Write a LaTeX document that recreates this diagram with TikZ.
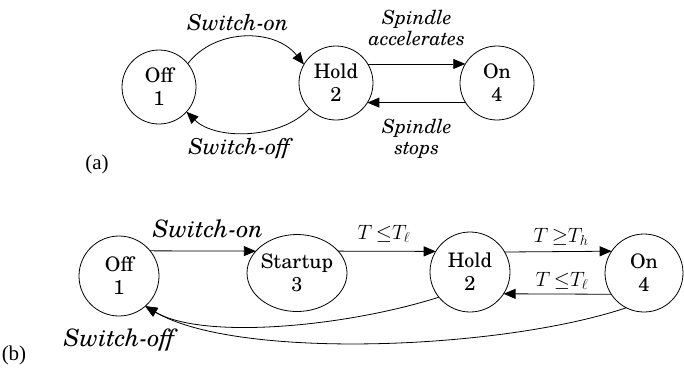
\documentclass[tikz,border=0pt]{standalone}
\usepackage{fontspec}
\setmainfont{TeX Gyre Schola}
\newfontfamily\timesfont{Liberation Serif}
\usetikzlibrary{arrows.meta,shapes.geometric}
\newcommand\statefnt{\fontsize{20}{23}\selectfont}
\newcommand\swafnt{\fontsize{22}{24}\selectfont\itshape}
\newcommand\swbfnt{\fontsize{24}{26}\selectfont\itshape}
\newcommand\spfnt{\fontsize{19.5}{21}\selectfont\itshape}
\newcommand\mfnt{\fontsize{20}{22}\selectfont}
\newcommand\capfnt{\fontsize{21}{23}\selectfont\timesfont}
\begin{document}
\begin{tikzpicture}[x=1pt,y=-1pt,
  st/.style={draw, circle, line width=0.8pt, inner sep=0pt, outer sep=0pt, align=center, font=\statefnt},
  arr/.style={line width=0.8pt, -{Triangle[length=12pt,width=10pt]}},
  lab/.style={inner sep=0pt, align=center}]
\useasboundingbox (0,0) rectangle (684,368);
% (a)
\node[st, minimum size=74pt] (offA) at (159,87) {Off\\1};
\node[st, minimum size=74pt] (holdA) at (336,83) {Hold\\2};
\node[st, minimum size=74pt] (onA) at (497,83) {On\\4};
\node[lab, font=\swafnt] (swonA) at (238,23) {Switch-on};
\node[lab, font=\swafnt] (swoffA) at (240,149) {Switch-off};
\node[lab, font=\spfnt] (accA) at (417,28) {Spindle\\accelerates};
\node[lab, font=\spfnt] (stopA) at (417,139) {Spindle\\stops};
\node[lab, font=\capfnt] (capA) at (97,164) {(a)};
\draw[arr] (offA.39) .. controls (215,28) and (275,28) .. (holdA.150);
\draw[arr] (holdA.224) .. controls (280,140) and (215,140) .. (offA.-42);
\draw[arr] (holdA.31) -- (onA.149);
\draw[arr] (onA.212) -- (holdA.-32);
% (b)
\node[st, minimum size=80pt] (offB) at (119,276) {Off\\1};
\node[st, ellipse, inner xsep=-2pt, minimum width=100pt, minimum height=77pt] (startB) at (297,273) {Startup\\3};
\node[st, minimum size=80pt] (holdB) at (470,272) {Hold\\2};
\node[st, minimum size=78pt] (onB) at (644,273) {On\\4};
\node[lab, font=\swbfnt] (swonB) at (208,229) {Switch-on};
\node[lab, font=\swbfnt] (swoffB) at (120,340) {Switch-off};
\node[lab, font=\mfnt] (t1B) at (384,234) {$T\,{\le}T_\ell$};
\node[lab, font=\mfnt] (t2B) at (561,237) {$T\,{\ge}T_h$};
\node[lab, font=\mfnt] (t3B) at (562,281) {$T\,{\le}T_\ell$};
\node[lab, font=\capfnt] (capB) at (14,355) {(b)};
\draw[arr] (offB.39) -- (startB.152);
\draw[arr] (startB.28) -- (holdB.149);
\draw[arr] (holdB.30) -- (onB.146);
\draw[arr] (onB.213) -- (holdB.-33);
\draw[arr] (holdB.219) .. controls (345,327) and (203,340) .. (offB.-49);
\draw[arr] (onB.243) .. controls (500,350) and (237,360) .. (offB.-49);
\end{tikzpicture}
\end{document}
